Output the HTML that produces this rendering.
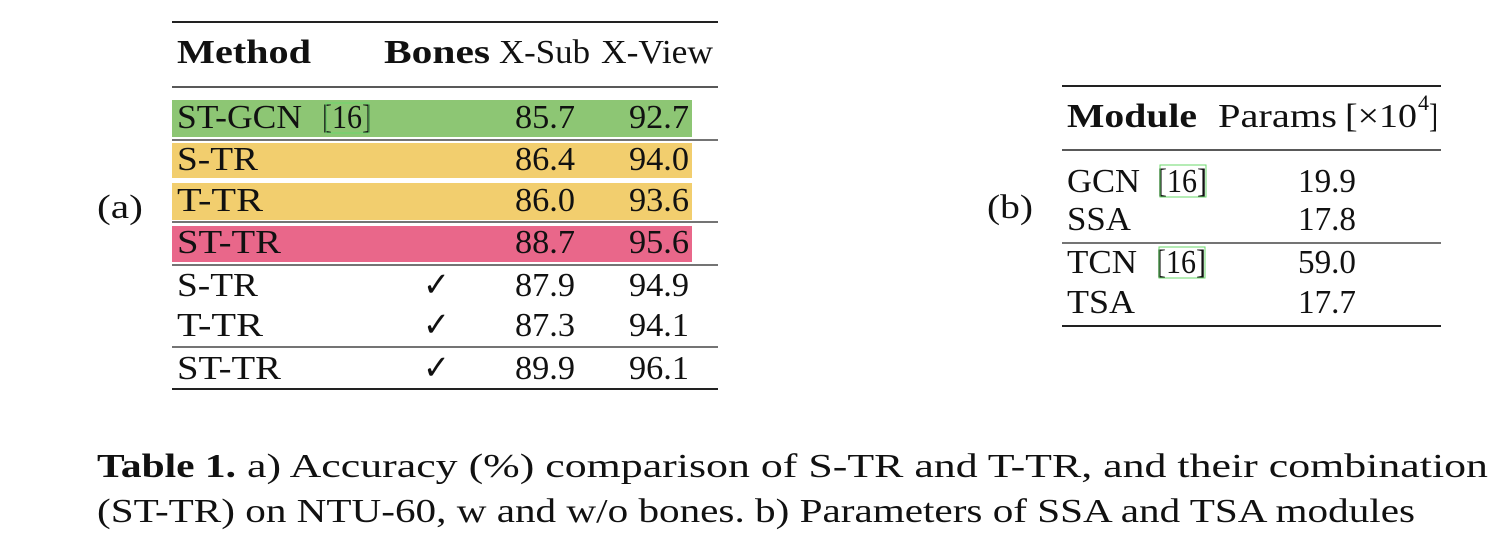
<!DOCTYPE html>
<html><head><meta charset="utf-8"><style>
html,body{margin:0;padding:0;background:#fff;}
svg{display:block;}
text{font-family:"Liberation Serif",serif;font-size:34px;fill:#111;}
.b{font-weight:bold;}
</style></head><body>
<svg width="1492" height="540" viewBox="0 0 1492 540" xmlns="http://www.w3.org/2000/svg">
<text x="97" y="218" textLength="46" lengthAdjust="spacingAndGlyphs">(a)</text>
<line x1="172" y1="22" x2="718" y2="22" stroke="#222" stroke-width="2"/>
<text class="b" x="177" y="63" textLength="134" lengthAdjust="spacingAndGlyphs">Method</text>
<text class="b" x="384" y="63" textLength="106" lengthAdjust="spacingAndGlyphs">Bones</text>
<text x="499" y="63" textLength="91" lengthAdjust="spacingAndGlyphs">X-Sub</text>
<text x="601" y="63" textLength="112" lengthAdjust="spacingAndGlyphs">X-View</text>
<line x1="172" y1="87" x2="718" y2="87" stroke="#222" stroke-width="1.5"/>
<rect x="172" y="100" width="520" height="37" fill="#8DC674"/>
<line x1="172" y1="140" x2="718" y2="140" stroke="#222" stroke-width="1.3"/>
<rect x="172" y="143" width="520" height="35" fill="#F2CE6E"/>
<rect x="172" y="183" width="520" height="37" fill="#F2CE6E"/>
<line x1="172" y1="222" x2="718" y2="222" stroke="#222" stroke-width="1.3"/>
<rect x="172" y="226" width="520" height="36" fill="#E9678A"/>
<line x1="172" y1="265" x2="718" y2="265" stroke="#222" stroke-width="1.3"/>
<line x1="172" y1="347" x2="718" y2="347" stroke="#222" stroke-width="1.3"/>
<line x1="172" y1="389" x2="718" y2="389" stroke="#222" stroke-width="2"/>

<text x="177" y="128" textLength="125" lengthAdjust="spacingAndGlyphs">ST-GCN</text>
<text x="322" y="128" textLength="50" lengthAdjust="spacingAndGlyphs">[16]</text>
<rect x="326" y="103" width="43" height="30" fill="none" stroke="#6BD86B" stroke-width="1"/>
<text x="515" y="128" textLength="60" lengthAdjust="spacingAndGlyphs">85.7</text>
<text x="629" y="128" textLength="60" lengthAdjust="spacingAndGlyphs">92.7</text>

<text x="177" y="170" textLength="81" lengthAdjust="spacingAndGlyphs">S-TR</text>
<text x="515" y="170" textLength="60" lengthAdjust="spacingAndGlyphs">86.4</text>
<text x="629" y="170" textLength="60" lengthAdjust="spacingAndGlyphs">94.0</text>
<text x="177" y="211" textLength="86" lengthAdjust="spacingAndGlyphs">T-TR</text>
<text x="515" y="211" textLength="60" lengthAdjust="spacingAndGlyphs">86.0</text>
<text x="629" y="211" textLength="60" lengthAdjust="spacingAndGlyphs">93.6</text>
<text x="177" y="253" textLength="104" lengthAdjust="spacingAndGlyphs">ST-TR</text>
<text x="515" y="253" textLength="60" lengthAdjust="spacingAndGlyphs">88.7</text>
<text x="629" y="253" textLength="60" lengthAdjust="spacingAndGlyphs">95.6</text>

<text x="177" y="296" textLength="81" lengthAdjust="spacingAndGlyphs">S-TR</text>
<text x="423" y="296" textLength="27" lengthAdjust="spacingAndGlyphs">✓</text>
<text x="515" y="296" textLength="60" lengthAdjust="spacingAndGlyphs">87.9</text>
<text x="629" y="296" textLength="60" lengthAdjust="spacingAndGlyphs">94.9</text>
<text x="177" y="336" textLength="86" lengthAdjust="spacingAndGlyphs">T-TR</text>
<text x="423" y="336" textLength="27" lengthAdjust="spacingAndGlyphs">✓</text>
<text x="515" y="336" textLength="60" lengthAdjust="spacingAndGlyphs">87.3</text>
<text x="629" y="336" textLength="60" lengthAdjust="spacingAndGlyphs">94.1</text>
<text x="177" y="379" textLength="104" lengthAdjust="spacingAndGlyphs">ST-TR</text>
<text x="423" y="379" textLength="27" lengthAdjust="spacingAndGlyphs">✓</text>
<text x="515" y="379" textLength="60" lengthAdjust="spacingAndGlyphs">89.9</text>
<text x="629" y="379" textLength="60" lengthAdjust="spacingAndGlyphs">96.1</text>

<text x="987" y="218" textLength="46" lengthAdjust="spacingAndGlyphs">(b)</text>
<line x1="1062" y1="86" x2="1441" y2="86" stroke="#222" stroke-width="2"/>
<text class="b" x="1067" y="127" textLength="130" lengthAdjust="spacingAndGlyphs">Module</text>
<text x="1218" y="127" textLength="119" lengthAdjust="spacingAndGlyphs">Params</text>
<text x="1345" y="127" textLength="72" lengthAdjust="spacingAndGlyphs">[×10</text>
<text x="1418" y="110" style="font-size:22px" textLength="11" lengthAdjust="spacingAndGlyphs">4</text>
<text x="1429" y="127" textLength="9" lengthAdjust="spacingAndGlyphs">]</text>
<line x1="1062" y1="150" x2="1441" y2="150" stroke="#222" stroke-width="1.5"/>
<text x="1067" y="192" textLength="73" lengthAdjust="spacingAndGlyphs">GCN</text>
<text x="1157" y="192" textLength="50" lengthAdjust="spacingAndGlyphs">[16]</text>
<rect x="1160" y="165" width="46" height="32" fill="none" stroke="#6BD86B" stroke-width="1"/>
<text x="1298" y="192" textLength="58" lengthAdjust="spacingAndGlyphs">19.9</text>
<text x="1067" y="230" textLength="64" lengthAdjust="spacingAndGlyphs">SSA</text>
<text x="1298" y="230" textLength="58" lengthAdjust="spacingAndGlyphs">17.8</text>
<line x1="1062" y1="243" x2="1441" y2="243" stroke="#222" stroke-width="1.3"/>
<text x="1067" y="273" textLength="70" lengthAdjust="spacingAndGlyphs">TCN</text>
<text x="1156" y="273" textLength="50" lengthAdjust="spacingAndGlyphs">[16]</text>
<rect x="1159" y="247" width="46" height="31" fill="none" stroke="#6BD86B" stroke-width="1"/>
<text x="1298" y="273" textLength="58" lengthAdjust="spacingAndGlyphs">59.0</text>
<text x="1067" y="313" textLength="68" lengthAdjust="spacingAndGlyphs">TSA</text>
<text x="1298" y="313" textLength="58" lengthAdjust="spacingAndGlyphs">17.7</text>
<line x1="1062" y1="326" x2="1441" y2="326" stroke="#222" stroke-width="2"/>

<text class="b" x="97" y="477" textLength="139" lengthAdjust="spacingAndGlyphs">Table 1.</text>
<text x="247" y="477" textLength="1241" lengthAdjust="spacingAndGlyphs">a) Accuracy (%) comparison of S-TR and T-TR, and their combination</text>
<text x="97" y="522" textLength="1318" lengthAdjust="spacingAndGlyphs">(ST-TR) on NTU-60, w and w/o bones. b) Parameters of SSA and TSA modules</text>
</svg>
</body></html>
